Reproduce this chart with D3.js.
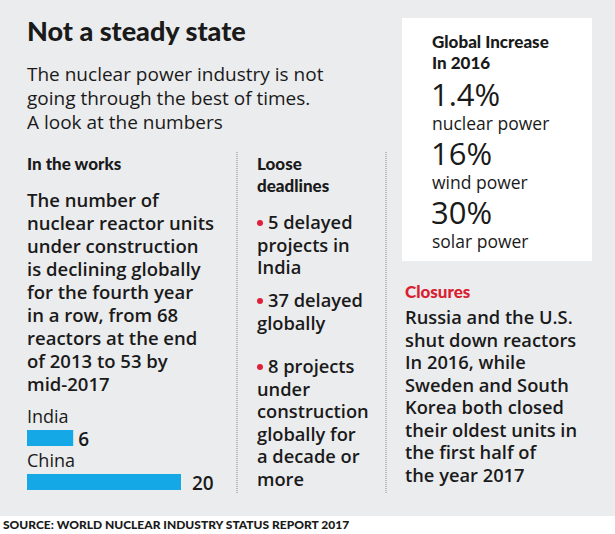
<!DOCTYPE html>
<html>
<head>
<meta charset="utf-8">
<script src="https://cdn.jsdelivr.net/npm/d3@7"></script>
<style>
  body { margin: 0; background: #fff; }
  svg text { font-family: "Open Sans", "Noto Sans", sans-serif; fill: #1a1a1a; }
  svg text.hd { font-family: Lato, sans-serif; font-weight: 900; }
</style>
</head>
<body>
<svg id="chart"></svg>
<script>
const countries = ["India", "China"];
const underConstruction = [6, 20];

const subtitleLines = ["The nuclear power industry is not", "going through the best of times.", "A look at the numbers"];
const worksLines = ["The number of", "nuclear reactor units", "under construction", "is declining globally",
  "for the fourth year", "in a row, from 68", "reactors at the end", "of 2013 to 53 by", "mid-2017"];
const delays = [
  ["5 delayed", "projects in", "India"],
  ["37 delayed", "globally"],
  ["8 projects", "under", "construction", "globally for", "a decade or", "more"]
];
const increaseValues = ["1.4%", "16%", "30%"];
const increaseSources = ["nuclear power", "wind power", "solar power"];
const closureLines = ["Russia and the U.S.", "shut down reactors", "In 2016, while", "Sweden and South",
  "Korea both closed", "their oldest units in", "the first half of", "the year 2017"];

const w = 615, h = 534;
const svg = d3.select("#chart").attr("width", w).attr("height", h);

svg.append("rect").attr("width", w).attr("height", 516).attr("fill", "#ebecee");
svg.append("rect").attr("x", 402).attr("y", 18).attr("width", 190).attr("height", 243).attr("fill", "#fff");

// title & subtitle
svg.append("text").attr("class", "hd").attr("x", 27).attr("y", 41).attr("font-size", 27)
   .text("Not a steady state");
svg.selectAll(".sub").data(subtitleLines).enter().append("text")
   .attr("x", 27).attr("y", (d, i) => 81 + i * 24).attr("font-size", 19).attr("font-weight", 500).text(d => d);

// column separators
[237, 386].forEach(x => {
  svg.append("line").attr("x1", x).attr("x2", x).attr("y1", 152).attr("y2", 494)
     .attr("stroke", "#888").attr("stroke-width", 1).attr("stroke-dasharray", "1,1");
});

// In the works
svg.append("text").attr("class", "hd").attr("x", 27).attr("y", 170).attr("font-size", 17).text("In the works");
svg.selectAll(".works").data(worksLines).enter().append("text")
   .attr("x", 27).attr("y", (d, i) => 207 + i * 23).attr("font-size", 18.5).attr("font-weight", 600).text(d => d);

const x = d3.scaleLinear().domain([0, 20]).range([0, 154]);
const bars = svg.selectAll(".bar").data(countries).enter().append("g")
   .attr("transform", (d, i) => `translate(27,${423 + i * 44})`);
bars.append("text").attr("y", 0).attr("font-size", 18).attr("font-weight", 500).text(d => d);
bars.append("rect").attr("y", 7).attr("height", 16)
   .attr("width", (d, i) => x(underConstruction[i])).attr("fill", "#14a8e6");
bars.append("text").attr("x", (d, i) => x(underConstruction[i]) + (i ? 11 : 5)).attr("y", 23)
   .attr("font-size", 19).attr("font-weight", 600).text((d, i) => underConstruction[i]);

// Loose deadlines
svg.selectAll(".ld").data(["Loose", "deadlines"]).enter().append("text").attr("class", "hd")
   .attr("x", 257).attr("y", (d, i) => 170 + i * 22).attr("font-size", 17).text(d => d);
const starts = [229, 307, 373];
delays.forEach((lines, k) => {
  svg.append("circle").attr("cx", 260).attr("cy", starts[k] - 6).attr("r", 3).attr("fill", "#e0203a");
  svg.selectAll(null).data(lines).enter().append("text")
     .attr("x", (d, i) => i ? 257 : 268).attr("y", (d, i) => starts[k] + i * 22.5)
     .attr("font-size", 18.3).attr("font-weight", 600).text(d => d);
});

// Global increase box
svg.selectAll(".gi").data(["Global Increase", "In 2016"]).enter().append("text").attr("class", "hd")
   .attr("x", 432).attr("y", (d, i) => 48 + i * 21).attr("font-size", 17).text(d => d);
increaseValues.forEach((v, i) => {
  svg.append("text").attr("x", 431).attr("y", 106 + i * 59).attr("font-size", 31).attr("font-weight", 500).text(v);
  svg.append("text").attr("x", 432).attr("y", 130 + i * 59).attr("font-size", 17.5).attr("font-weight", 500).text(increaseSources[i]);
});

// Closures
svg.append("text").attr("class", "hd").attr("x", 405).attr("y", 298).attr("font-size", 17)
   .style("fill", "#d9202f").text("Closures");
svg.selectAll(".cl").data(closureLines).enter().append("text")
   .attr("x", 405).attr("y", (d, i) => 324 + i * 22.5).attr("font-size", 18.3).attr("font-weight", 600).text(d => d);

// source
svg.append("text").attr("class", "hd").attr("x", 3).attr("y", 529).attr("font-size", 12)
   .text("SOURCE: WORLD NUCLEAR INDUSTRY STATUS REPORT 2017");
</script>
</body>
</html>
